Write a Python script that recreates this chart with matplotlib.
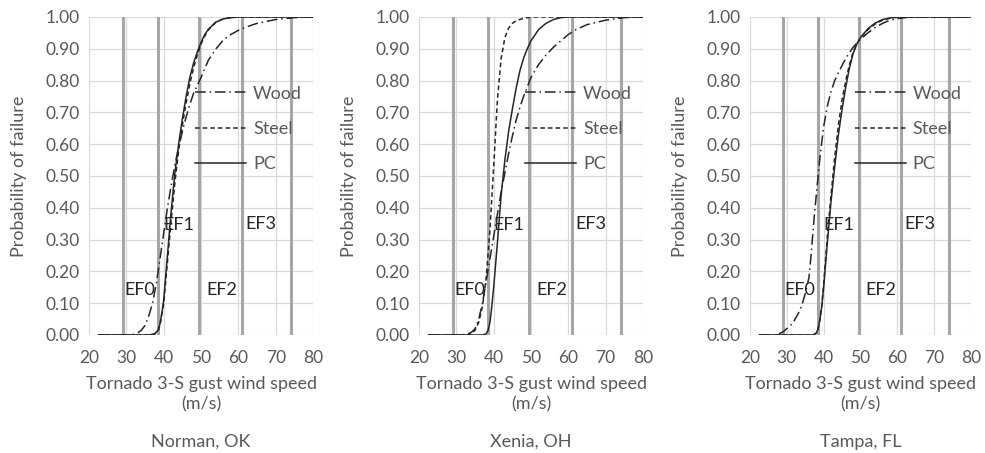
import numpy as np
import matplotlib.pyplot as plt

plt.rcParams['font.family'] = ['Lato', 'DejaVu Sans']

# fragility curves read per site: wind speed (m/s) and probability of failure
norman_pc_v = [22.5, 30, 36, 37.5, 38.5, 39, 39.5, 40, 41, 42, 43, 44, 45, 46, 47, 48, 49, 50, 51, 52, 54, 56, 58, 60, 80]
norman_pc_p = [0, 0, 0, 0.003, 0.015, 0.035, 0.07, 0.11, 0.25, 0.39, 0.51, 0.60, 0.68, 0.75, 0.81, 0.855, 0.89, 0.92, 0.945, 0.962, 0.984, 0.994, 0.998, 1.0, 1.0]
norman_steel_v = norman_pc_v
norman_steel_p = [0, 0, 0, 0.003, 0.012, 0.03, 0.065, 0.10, 0.23, 0.36, 0.48, 0.58, 0.66, 0.73, 0.79, 0.84, 0.88, 0.915, 0.94, 0.96, 0.984, 0.994, 0.998, 1.0, 1.0]
norman_wood_v = [22.5, 30, 32, 33, 34, 35, 36, 37, 38, 39, 40, 41, 42, 43, 44, 45, 46, 47, 48, 49, 50, 52, 54, 56, 58, 60, 62, 65, 70, 75, 80]
norman_wood_p = [0, 0, 0.002, 0.006, 0.015, 0.03, 0.06, 0.10, 0.16, 0.24, 0.32, 0.40, 0.47, 0.535, 0.59, 0.64, 0.685, 0.725, 0.76, 0.785, 0.81, 0.865, 0.90, 0.928, 0.945, 0.958, 0.968, 0.98, 0.992, 0.998, 1.0]

xenia_pc_v = [22.5, 30, 37, 38, 38.5, 39, 39.5, 40, 41, 42, 43, 44, 45, 46, 47, 48, 49, 50, 52, 54, 56, 58, 60, 80]
xenia_pc_p = [0, 0, 0, 0.004, 0.015, 0.04, 0.09, 0.15, 0.29, 0.44, 0.55, 0.64, 0.71, 0.775, 0.83, 0.87, 0.9, 0.925, 0.96, 0.98, 0.992, 0.998, 1.0, 1.0]
xenia_steel_v = [22.5, 30, 33, 34, 35, 36, 37, 38, 39, 40, 41, 42, 43, 44, 45, 46, 48, 50, 80]
xenia_steel_p = [0, 0, 0, 0.004, 0.015, 0.04, 0.09, 0.18, 0.33, 0.53, 0.74, 0.87, 0.935, 0.965, 0.98, 0.988, 0.996, 1.0, 1.0]
xenia_wood_v = [22.5, 30, 32, 33, 34, 35, 36, 37, 38, 39, 40, 41, 42, 43, 44, 45, 46, 47, 48, 50, 52, 54, 56, 58, 60, 62, 65, 70, 75, 80]
xenia_wood_p = [0, 0, 0.001, 0.003, 0.008, 0.02, 0.05, 0.10, 0.17, 0.24, 0.31, 0.38, 0.45, 0.51, 0.57, 0.625, 0.675, 0.715, 0.75, 0.81, 0.85, 0.88, 0.905, 0.925, 0.945, 0.96, 0.976, 0.99, 0.998, 1.0]

tampa_pc_v = [22.5, 30, 37, 37.5, 38, 38.5, 39, 39.5, 40, 41, 42, 43, 44, 45, 46, 47, 48, 49, 50, 52, 54, 56, 58, 60, 80]
tampa_pc_p = [0, 0, 0, 0.002, 0.006, 0.02, 0.05, 0.09, 0.15, 0.29, 0.42, 0.53, 0.63, 0.71, 0.78, 0.84, 0.885, 0.915, 0.935, 0.963, 0.981, 0.992, 0.997, 1.0, 1.0]
tampa_steel_v = tampa_pc_v
tampa_steel_p = [0, 0, 0, 0.002, 0.006, 0.02, 0.05, 0.095, 0.16, 0.31, 0.44, 0.56, 0.66, 0.74, 0.80, 0.85, 0.89, 0.915, 0.935, 0.96, 0.978, 0.99, 0.996, 0.999, 1.0]
tampa_wood_v = [22.5, 27, 28, 29, 30, 31, 32, 33, 34, 35, 36, 36.5, 37, 37.5, 38, 38.5, 39, 40, 41, 42, 43, 44, 46, 48, 50, 52, 54, 56, 58, 60, 63, 80]
tampa_wood_p = [0, 0, 0.004, 0.01, 0.02, 0.03, 0.045, 0.065, 0.09, 0.13, 0.18, 0.24, 0.31, 0.38, 0.44, 0.50, 0.56, 0.655, 0.72, 0.765, 0.80, 0.825, 0.87, 0.905, 0.93, 0.95, 0.967, 0.98, 0.99, 0.995, 0.999, 1.0]

sites = ['Norman, OK', 'Xenia, OH', 'Tampa, FL']
ef_bounds = [29, 38.5, 49.5, 61, 74]       # EF-scale class limits (m/s)
ef_names = ['EF0', 'EF1', 'EF2', 'EF3']
ef_label_x = [33.5, 44, 55.5, 66]
ef_label_y = [0.14, 0.345, 0.14, 0.35]

curves = [
    [(norman_wood_v, norman_wood_p), (norman_steel_v, norman_steel_p), (norman_pc_v, norman_pc_p)],
    [(xenia_wood_v, xenia_wood_p), (xenia_steel_v, xenia_steel_p), (xenia_pc_v, xenia_pc_p)],
    [(tampa_wood_v, tampa_wood_p), (tampa_steel_v, tampa_steel_p), (tampa_pc_v, tampa_pc_p)],
]
names = ['Wood', 'Steel', 'PC']
styles = [(0, (7, 2.5, 1, 2.5)), (0, (3, 2)), '-']

txt = '#595959'
fig = plt.figure(figsize=(9.85, 4.53), dpi=100)
lefts = [0.0904, 0.4254, 0.7614]
widths = [0.2274, 0.2274, 0.2244]

for k in range(3):
    ax = fig.add_axes([lefts[k], 0.2605, widths[k], 0.702])
    ax.set_xlim(20, 80)
    ax.set_ylim(0, 1)
    ax.set_xticks(np.arange(20, 81, 10))
    ax.set_yticks(np.arange(0, 1.01, 0.1))
    ax.set_yticklabels(['%.2f' % t for t in np.arange(0, 1.01, 0.1)])
    ax.grid(True, color='#d9d9d9', lw=0.9)
    ax.set_axisbelow(True)
    for s in ax.spines.values():
        s.set_visible(False)
    ax.tick_params(length=0, colors=txt, labelsize=12.5)
    ax.tick_params(axis='x', pad=11)
    ax.tick_params(axis='y', pad=7)

    for b in ef_bounds:
        ax.axvline(b, color='#a6a6a6', lw=2.2, zorder=1)

    for (v, p), nm, ls in zip(curves[k], names, styles):
        ax.plot(v, p, color='#262626', lw=1.1, ls=ls, label=nm, zorder=3)

    for nm, x, y in zip(ef_names, ef_label_x, ef_label_y):
        ax.text(x, y, nm, ha='center', va='center', fontsize=13, color='#262626', zorder=4)

    ax.legend(loc='center left', bbox_to_anchor=(0.473, 0.648), frameon=False,
              fontsize=13, handlelength=2.85, handletextpad=0.37, labelspacing=1.06,
              labelcolor=txt, borderpad=0, borderaxespad=0)

    ax.set_xlabel('Tornado 3-S gust wind speed\n(m/s)', fontsize=13, color=txt, labelpad=7, linespacing=1.35)
    ax.set_ylabel('Probability of failure', fontsize=13, color=txt, labelpad=13)
    ax.text(0.5, -0.336, sites[k], transform=ax.transAxes, ha='center', va='center',
            fontsize=13, color=txt)

fig.savefig('out.png', dpi=100)
